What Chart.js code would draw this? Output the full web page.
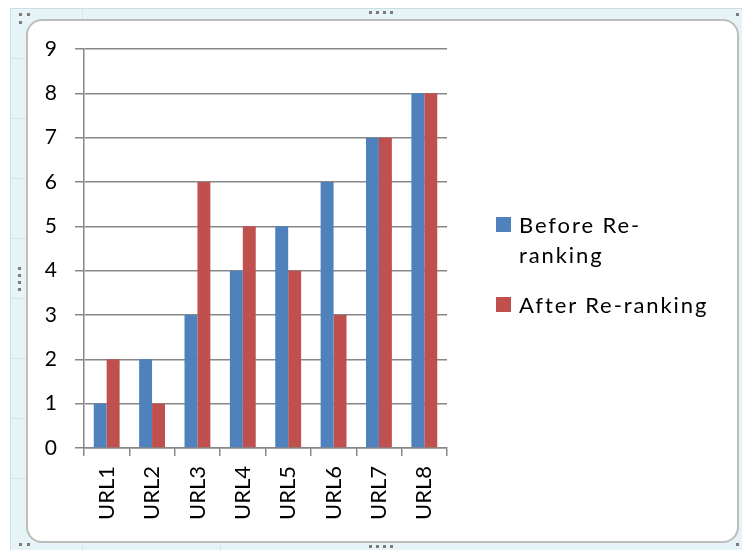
<!DOCTYPE html>
<html>
<head>
<meta charset="utf-8">
<script src="https://cdn.jsdelivr.net/npm/chart.js@4"></script>
<style>
  html, body { margin: 0; padding: 0; background: #ffffff; }
  #wrap { position: relative; width: 742px; height: 550px; overflow: hidden; }
  .outer { position: absolute; left: 10px; top: 8px; width: 732px; height: 542px; background: #e6f4f7; border-left: 1px solid #c9dfe4; border-top: 1px solid #c9dfe4; }
  .gl { position: absolute; background: #d3e7ec; }
  .area { position: absolute; left: 26px; top: 19px; width: 709px; height: 520px; background: #fff; border: 2px solid #bdbdbd; border-radius: 16px; }
  .dot { position: absolute; width: 3px; height: 3px; background: #7b7b7b; }
  canvas { position: absolute; left: 0; top: 0; }
  .legend { position: absolute; left: 495px; top: 210px; font-family: Lato, "Liberation Sans", sans-serif; font-size: 22px; letter-spacing: 1.9px; color: #000; }
  .item { position: absolute; left: 0; white-space: nowrap; }
  .box { position: absolute; left: 1px; width: 15px; height: 15px; }
  .txt { position: absolute; left: 24px; line-height: 30px; }
</style>
</head>
<body>
<div id="wrap">
  <div class="outer"></div>
  <div class="gl" style="left:10px;top:58px;width:16px;height:1px"></div>
  <div class="gl" style="left:10px;top:118px;width:16px;height:1px"></div>
  <div class="gl" style="left:10px;top:178px;width:16px;height:1px"></div>
  <div class="gl" style="left:10px;top:238px;width:16px;height:1px"></div>
  <div class="gl" style="left:10px;top:298px;width:16px;height:1px"></div>
  <div class="gl" style="left:10px;top:358px;width:16px;height:1px"></div>
  <div class="gl" style="left:10px;top:418px;width:16px;height:1px"></div>
  <div class="gl" style="left:10px;top:478px;width:16px;height:1px"></div>
  <div class="gl" style="left:82px;top:8px;width:1px;height:12px"></div>
  <div class="gl" style="left:82px;top:541px;width:1px;height:9px"></div>
  <div class="gl" style="left:220px;top:541px;width:1px;height:9px"></div>
  <div class="area"></div>
  <div class="dot" style="left:19px;top:13px"></div>
  <div class="dot" style="left:27px;top:13px"></div>
  <div class="dot" style="left:19px;top:21px"></div>
  <div class="dot" style="left:369px;top:11px"></div>
  <div class="dot" style="left:376px;top:11px"></div>
  <div class="dot" style="left:383px;top:11px"></div>
  <div class="dot" style="left:390px;top:11px"></div>
  <div class="dot" style="left:18px;top:267px"></div>
  <div class="dot" style="left:18px;top:274px"></div>
  <div class="dot" style="left:18px;top:281px"></div>
  <div class="dot" style="left:18px;top:288px"></div>
  <div class="dot" style="left:369px;top:545px"></div>
  <div class="dot" style="left:376px;top:545px"></div>
  <div class="dot" style="left:383px;top:545px"></div>
  <div class="dot" style="left:390px;top:545px"></div>
  <div class="dot" style="left:19px;top:543px"></div>
  <div class="dot" style="left:27px;top:543px"></div>
  <div class="dot" style="left:736px;top:543px"></div>
  <div class="dot" style="left:736px;top:13px"></div>
  <canvas id="c" width="742" height="550"></canvas>
  <div class="legend" id="legend"></div>
</div>
<script>
const categories = ["URL1", "URL2", "URL3", "URL4", "URL5", "URL6", "URL7", "URL8"];
const beforeRanking = [1, 2, 3, 4, 5, 6, 7, 8];
const afterRanking = [2, 1, 6, 5, 4, 3, 7, 8];
const seriesNames = [["Before Re-", "ranking"], ["After Re-ranking"]];
const seriesColors = ["#4F81BD", "#C0504D"];

const FONT = "Lato, 'Liberation Sans', sans-serif";
const AXIS = "#878787";

new Chart(document.getElementById("c"), {
  type: "bar",
  data: {
    labels: categories,
    datasets: [
      { label: seriesNames[0].join(" "), data: beforeRanking, backgroundColor: seriesColors[0], borderWidth: 0 },
      { label: seriesNames[1].join(" "), data: afterRanking, backgroundColor: seriesColors[1], borderWidth: 0 }
    ]
  },
  options: {
    responsive: false,
    animation: false,
    events: [],
    layout: { padding: { left: 0, top: 49, right: 295, bottom: 0 } },
    plugins: { legend: { display: false }, tooltip: { enabled: false } },
    datasets: { bar: { categoryPercentage: 0.57, barPercentage: 1.0 } },
    scales: {
      x: {
        offset: true,
        grid: { offset: true, drawOnChartArea: false, drawTicks: true, tickLength: 8, color: AXIS, lineWidth: 1.5 },
        border: { display: true, color: AXIS, width: 1.5 },
        ticks: { minRotation: 90, maxRotation: 90, padding: 10, color: "#000", font: { family: FONT, size: 22 } },
        afterFit: s => { s.height = 102; }
      },
      y: {
        min: 0, max: 9,
        grid: { color: AXIS, lineWidth: 1.5, tickLength: 9, drawTicks: true },
        border: { display: true, color: AXIS, width: 1.5 },
        ticks: { stepSize: 1, padding: 18, color: "#000", font: { family: FONT, size: 21 } },
        afterFit: s => { s.width = 84; }
      }
    }
  }
});

const lg = document.getElementById("legend");
const tops = [0, 80];
seriesNames.forEach((name, i) => {
  const it = document.createElement("div");
  it.className = "item";
  it.style.top = tops[i] + "px";
  const b = document.createElement("div");
  b.className = "box";
  b.style.background = seriesColors[i];
  b.style.top = "7px";
  const t = document.createElement("div");
  t.className = "txt";
  t.style.top = "0px";
  t.innerHTML = name.join("<br>");
  it.appendChild(b); it.appendChild(t);
  lg.appendChild(it);
});
</script>
</body>
</html>
